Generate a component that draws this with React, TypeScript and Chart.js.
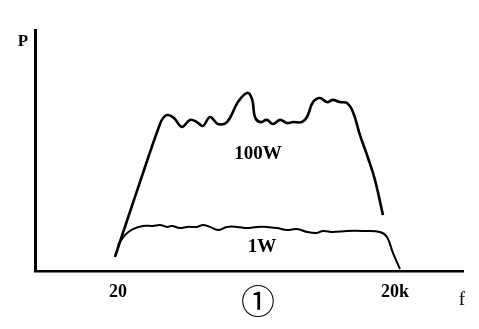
import React, { useEffect, useRef } from "react";
import { Chart, registerables } from "chart.js";

Chart.register(...registerables);

// x values: log10(frequency in Hz); y values: relative power P (0-100)
const logF100W = [1.268, 1.539, 1.756, 1.799, 1.843, 1.908, 1.994, 2.081, 2.157, 2.222, 2.298, 2.384, 2.482, 2.601, 2.699, 2.753, 2.785, 2.839, 2.915, 2.98, 3.056, 3.132, 3.197, 3.294, 3.349, 3.414, 3.489, 3.565, 3.63, 3.706, 3.782, 3.847, 3.923, 4.01, 4.085, 4.172];
const p100W = [5.8, 36.9, 61.0, 63.9, 64.7, 63.5, 59.8, 62.7, 61.8, 60.2, 63.9, 61.0, 61.8, 70.1, 73.9, 71.4, 63.9, 61.8, 62.7, 61.0, 62.7, 61.4, 61.8, 61.8, 63.9, 70.1, 71.8, 70.1, 71.0, 70.1, 69.7, 66.0, 56.4, 46.9, 37.8, 23.2];

const logF1W = [1.301, 1.377, 1.463, 1.572, 1.68, 1.756, 1.832, 1.886, 1.973, 2.049, 2.157, 2.222, 2.298, 2.384, 2.482, 2.59, 2.699, 2.807, 2.915, 3.024, 3.132, 3.24, 3.349, 3.457, 3.522, 3.63, 3.782, 3.955, 4.139, 4.215, 4.28, 4.356];
const p1W = [10.8, 14.9, 17.4, 18.7, 18.7, 19.1, 18.3, 18.7, 17.8, 18.3, 18.3, 19.1, 18.3, 17.0, 18.3, 18.3, 17.8, 18.3, 18.3, 17.8, 17.0, 17.4, 16.2, 15.8, 16.6, 16.2, 16.6, 16.6, 16.2, 14.1, 7.5, 0.8];

const tickValues = [1.301, 4.301];
const tickLabels = ["20", "20k"];

const seriesLabels = ["100W", "1W"];
const axisTitleY = "P";
const axisTitleX = "f";
const figureMark = "①";

export default function App() {
  const ref = useRef<HTMLCanvasElement>(null);

  useEffect(() => {
    document.body.style.margin = "0";
    const canvas = ref.current;
    if (!canvas) return;

    const textPlugin = {
      id: "texts",
      afterDraw(chart: any) {
        const ctx = chart.ctx;
        const xs = chart.scales.x;
        const ys = chart.scales.y;
        ctx.save();
        ctx.fillStyle = "#000";
        ctx.textAlign = "center";
        ctx.textBaseline = "middle";
        ctx.font = "bold 19px 'Liberation Serif', serif";
        ctx.fillText(seriesLabels[0], xs.getPixelForValue(2.818), ys.getPixelForValue(48.5));
        ctx.fillText(seriesLabels[1], xs.getPixelForValue(2.861), ys.getPixelForValue(10));
        ctx.font = "bold 17px 'Liberation Serif', serif";
        ctx.fillText(axisTitleY, xs.left - 12, ys.top + 12);
        ctx.font = "19px 'Liberation Serif', serif";
        ctx.fillText(axisTitleX, xs.right - 1, ys.bottom + 29);
        ctx.font = "34px 'Noto Sans CJK SC', sans-serif";
        ctx.fillText(figureMark, xs.getPixelForValue(2.818), ys.bottom + 30);
        ctx.restore();
      },
    };

    const chart = new Chart(canvas, {
      type: "line",
      data: {
        datasets: [
          {
            label: seriesLabels[0],
            data: logF100W.map((x, i) => ({ x, y: p100W[i] })),
            borderColor: "#000",
            borderWidth: 2.6,
            pointRadius: 0,
            tension: 0.4,
            fill: false,
          },
          {
            label: seriesLabels[1],
            data: logF1W.map((x, i) => ({ x, y: p1W[i] })),
            borderColor: "#000",
            borderWidth: 2,
            pointRadius: 0,
            tension: 0.4,
            fill: false,
          },
        ],
      },
      options: {
        animation: false,
        responsive: false,
        layout: { padding: { top: 30, right: 16, left: 0, bottom: 0 } },
        plugins: { legend: { display: false }, tooltip: { enabled: false } },
        scales: {
          x: {
            type: "linear",
            min: 0.402,
            max: 5.039,
            grid: { display: false, drawTicks: false },
            border: { display: true, color: "#000", width: 2.5 },
            afterBuildTicks: (scale: any) => {
              scale.ticks = tickValues.map((v) => ({ value: v }));
            },
            afterFit: (scale: any) => {
              scale.height = 58;
            },
            ticks: {
              color: "#000",
              padding: 11,
              maxRotation: 0,
              autoSkip: false,
              font: { family: "'Liberation Serif', serif", size: 18, weight: "bold" },
              callback: (v: any) => {
                const i = tickValues.indexOf(Number(v));
                return i >= 0 ? tickLabels[i] : "";
              },
            },
          },
          y: {
            type: "linear",
            min: 0,
            max: 100,
            grid: { display: false, drawTicks: false },
            border: { display: true, color: "#000", width: 3 },
            ticks: { display: false },
            afterFit: (scale: any) => {
              scale.width = 35;
            },
          },
        },
      },
      plugins: [textPlugin],
    });

    return () => chart.destroy();
  }, []);

  return <canvas ref={ref} width={479} height={329} style={{ display: "block", width: 479, height: 329 }} />;
}
